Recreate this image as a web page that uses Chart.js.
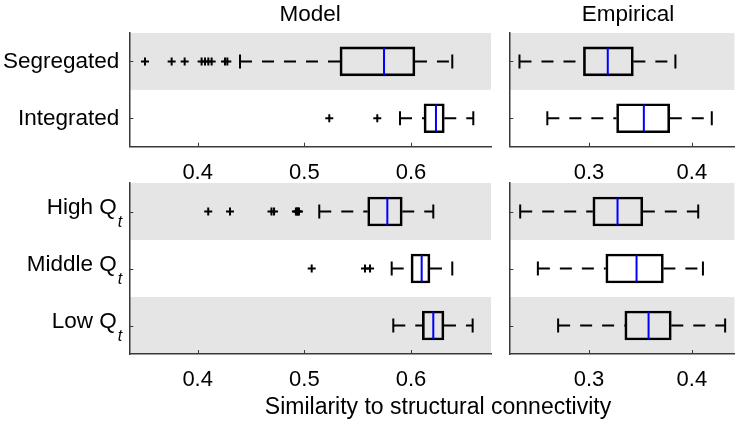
<!DOCTYPE html>
<html><head><meta charset="utf-8">
<script src="https://cdn.jsdelivr.net/npm/chart.js@4.4.0/dist/chart.umd.min.js"></script>
<style>
html,body{margin:0;padding:0;background:#fff;}
#wrap{position:relative;width:750px;height:422px;overflow:hidden;font-family:"Liberation Sans",Arial,sans-serif;}
#wrap canvas{position:absolute;left:0;top:0;width:750px;height:422px;pointer-events:none;}
#xtitle{position:absolute;left:0;width:876px;top:393px;line-height:26px;font-size:23px;text-align:center;color:#000;white-space:nowrap;}
</style></head>
<body><div id="wrap">
<canvas id="c1" width="750" height="422"></canvas>
<canvas id="c2" width="750" height="422"></canvas>
<canvas id="c3" width="750" height="422"></canvas>
<canvas id="c4" width="750" height="422"></canvas>
<div id="xtitle">Similarity to structural connectivity</div>
</div>
<script>
// ---------- data ----------
const topCategories = ['Segregated', 'Integrated'];
const bottomCategories = ['High', 'Middle', 'Low'];   // drawn as "High Q_t", ...
const modelTicks = [0.4, 0.5, 0.6];
const empiricalTicks = [0.3, 0.4];

// Model, Segregated / Integrated
const modelTopLow    = [0.4397, 0.5897];
const modelTopQ1     = [0.5334, 0.6122];
const modelTopMedian = [0.5747, 0.6234];
const modelTopQ3     = [0.6037, 0.6312];
const modelTopHigh   = [0.6387, 0.6584];
const modelTopOutliers = [
  [0.3506, 0.3756, 0.3878, 0.4037, 0.4069, 0.4100, 0.4131, 0.4256, 0.4278],
  [0.5234, 0.5684]
];

// Empirical, Segregated / Integrated
const empiricalTopLow    = [0.2323, 0.2594];
const empiricalTopQ1     = [0.2945, 0.3268];
const empiricalTopMedian = [0.3182, 0.3533];
const empiricalTopQ3     = [0.3431, 0.3785];
const empiricalTopHigh   = [0.3840, 0.4194];
const empiricalTopOutliers = [[], []];

// Model, High / Middle / Low Q_t
const modelBottomLow    = [0.5140, 0.5819, 0.5834];
const modelBottomQ1     = [0.5594, 0.6000, 0.6106];
const modelBottomMedian = [0.5778, 0.6100, 0.6209];
const modelBottomQ3     = [0.5918, 0.6178, 0.6309];
const modelBottomHigh   = [0.6209, 0.6387, 0.6578];
const modelBottomOutliers = [
  [0.4099, 0.4303, 0.4692, 0.4716, 0.4921, 0.4930, 0.4940, 0.4950],
  [0.5069, 0.5569, 0.5616],
  []
];

// Empirical, High / Middle / Low Q_t
const empiricalBottomLow    = [0.2330, 0.2502, 0.2699];
const empiricalBottomQ1     = [0.3037, 0.3163, 0.3348];
const empiricalBottomMedian = [0.3277, 0.3462, 0.3579];
const empiricalBottomQ3     = [0.3523, 0.3723, 0.3800];
const empiricalBottomHigh   = [0.4062, 0.4108, 0.4324];
const empiricalBottomOutliers = [[], [], []];

// ---------- styling ----------
const FONT = '"Liberation Sans", Arial, Helvetica, sans-serif';
const BAND = '#e5e5e5';
const AXIS = '#3a3a3a';
Chart.defaults.font.family = FONT;
Chart.defaults.font.size = 22;
Chart.defaults.color = '#000';

function buildDatasets(cats, low, q1, med, q3, high, outliers) {
  const ds = [];
  ds.push({ type: 'scatter', data: cats.map((c, i) => ({ x: med[i], y: c })),
    pointStyle: 'line', pointRotation: 90, pointRadius: 13.5, pointHoverRadius: 13.5,
    pointBorderColor: '#0000ff', pointBorderWidth: 2, borderColor: '#0000ff' });
  ds.push({ type: 'bar', data: cats.map((c, i) => [q1[i], q3[i]]),
    backgroundColor: 'rgba(0,0,0,0)', borderColor: '#000', borderWidth: 2,
    borderSkipped: false, barThickness: 29 });
  ds.push({ type: 'scatter', data: cats.flatMap((c, i) => [{ x: low[i], y: c }, { x: high[i], y: c }]),
    pointStyle: 'line', pointRotation: 90, pointRadius: 7, pointHoverRadius: 7,
    pointBorderColor: '#000', pointBorderWidth: 2, borderColor: '#000' });
  cats.forEach((c, i) => {
    ds.push({ type: 'line', data: [{ x: low[i], y: c }, { x: q1[i], y: c }],
      borderColor: '#000', borderWidth: 2, borderDash: [12, 10], pointRadius: 0, fill: false });
    ds.push({ type: 'line', data: [{ x: q3[i], y: c }, { x: high[i], y: c }],
      borderColor: '#000', borderWidth: 2, borderDash: [12, 10], pointRadius: 0, fill: false });
  });
  ds.push({ type: 'scatter', data: cats.flatMap((c, i) => outliers[i].map(v => ({ x: v, y: c }))),
    pointStyle: 'cross', pointRadius: 4, pointHoverRadius: 4,
    pointBorderColor: '#000', pointBorderWidth: 2, borderColor: '#000' });
  return ds;
}

const panelPlugin = {
  id: 'panelDeco',
  beforeDraw(chart, args, opts) {
    const { ctx, chartArea: a, scales: { y } } = chart;
    const n = chart.data.labels.length;
    const band = (a.bottom - a.top) / n;
    ctx.save();
    ctx.fillStyle = BAND;
    opts.shaded.forEach(i => {
      const yc = y.getPixelForValue(i);
      ctx.fillRect(a.left, yc - band / 2, a.right - a.left, band);
    });
    ctx.restore();
  },
  afterDraw(chart, args, opts) {
    const { ctx, chartArea: a, scales: { x, y } } = chart;
    ctx.save();
    ctx.strokeStyle = AXIS;
    ctx.lineWidth = 1;
    chart.data.labels.forEach((c, i) => {
      const yc = Math.round(y.getPixelForValue(i)) + 0.5;
      ctx.beginPath(); ctx.moveTo(a.left, yc); ctx.lineTo(a.left + 4, yc); ctx.stroke();
    });
    x.ticks.forEach(t => {
      const xc = Math.round(x.getPixelForValue(t.value)) + 0.5;
      ctx.beginPath(); ctx.moveTo(xc, a.bottom); ctx.lineTo(xc, a.bottom - 4); ctx.stroke();
    });
    if (opts.labels) {
      ctx.fillStyle = '#000';
      ctx.textBaseline = 'alphabetic';
      const LF = '22.5px ' + FONT;
      const SF = 'italic 16px ' + FONT;
      chart.data.labels.forEach((c, i) => {
        const yc = y.getPixelForValue(i);
        if (opts.subscript) {
          const main = c + ' Q';
          ctx.font = LF;
          const wm = ctx.measureText(main).width;
          ctx.font = SF;
          const ws = ctx.measureText('t').width;
          const right = a.left - 7;
          const x0 = right - ws - 1 - wm;
          ctx.font = LF;
          ctx.textAlign = 'left';
          ctx.fillText(main, x0, yc + 2.5);
          ctx.font = SF;
          ctx.fillText('t', x0 + wm + 1, yc + 15.5);
        } else {
          ctx.font = LF;
          ctx.textAlign = 'right';
          ctx.fillText(c, a.left - 10, yc + 7);
        }
      });
    }
    ctx.restore();
  }
};

function makePanel(id, cfg) {
  const p = cfg.area; // chart area: left, right, top, bottom
  return new Chart(document.getElementById(id), {
    type: 'bar',
    data: { labels: cfg.cats,
      datasets: buildDatasets(cfg.cats, cfg.low, cfg.q1, cfg.med, cfg.q3, cfg.high, cfg.out) },
    plugins: [panelPlugin],
    options: {
      indexAxis: 'y',
      responsive: false,
      animation: false,
      events: [],
      layout: { padding: { left: p.left, right: 750 - p.right,
        top: cfg.title ? 0 : p.top, bottom: 422 - p.bottom - 40 } },
      scales: {
        x: { type: 'linear', min: cfg.min, max: cfg.max, offset: false,
          grid: { display: true, drawOnChartArea: false, drawTicks: false },
          border: { display: true, color: AXIS, width: 1.5 },
          afterBuildTicks: s => { s.ticks = cfg.ticks.map(v => ({ value: v })); },
          afterFit: s => { s.height = 40; },
          ticks: { color: '#000', font: { size: 22 }, padding: 13, maxRotation: 0,
            autoSkip: false, callback: v => Number(v).toFixed(1) } },
        y: { type: 'category', offset: true,
          grid: { display: true, drawOnChartArea: false, drawTicks: false },
          border: { display: true, color: AXIS, width: 1.5 },
          ticks: { display: false },
          afterFit: s => { s.width = 0; } }
      },
      plugins: {
        legend: { display: false },
        tooltip: { enabled: false },
        title: { display: !!cfg.title, text: cfg.title || '', color: '#000',
          font: { size: 22.5, weight: 'normal' }, padding: { top: 1, bottom: p.top - 28 } },
        panelDeco: { shaded: cfg.shaded, labels: cfg.labels, subscript: cfg.subscript }
      }
    }
  });
}

const modelArea = { left: 129.3, right: 491 };
const empArea = { left: 509.3, right: 746.7 };
const topRow = { top: 33, bottom: 146.7 };
const botRow = { top: 183, bottom: 354 };

makePanel('c1', { area: { ...modelArea, ...topRow }, cats: topCategories,
  low: modelTopLow, q1: modelTopQ1, med: modelTopMedian, q3: modelTopQ3, high: modelTopHigh, out: modelTopOutliers,
  min: 0.3359, max: 0.675, ticks: modelTicks, title: 'Model', shaded: [0], labels: true, subscript: false });
makePanel('c2', { area: { ...empArea, ...topRow }, cats: topCategories,
  low: empiricalTopLow, q1: empiricalTopQ1, med: empiricalTopMedian, q3: empiricalTopQ3, high: empiricalTopHigh, out: empiricalTopOutliers,
  min: 0.2224, max: 0.4415, ticks: empiricalTicks, title: 'Empirical', shaded: [0], labels: false });
makePanel('c3', { area: { ...modelArea, ...botRow }, cats: bottomCategories,
  low: modelBottomLow, q1: modelBottomQ1, med: modelBottomMedian, q3: modelBottomQ3, high: modelBottomHigh, out: modelBottomOutliers,
  min: 0.3359, max: 0.675, ticks: modelTicks, title: null, shaded: [0, 2], labels: true, subscript: true });
makePanel('c4', { area: { ...empArea, ...botRow }, cats: bottomCategories,
  low: empiricalBottomLow, q1: empiricalBottomQ1, med: empiricalBottomMedian, q3: empiricalBottomQ3, high: empiricalBottomHigh, out: empiricalBottomOutliers,
  min: 0.2224, max: 0.4415, ticks: empiricalTicks, title: null, shaded: [0, 2], labels: false });
</script>
</body></html>
